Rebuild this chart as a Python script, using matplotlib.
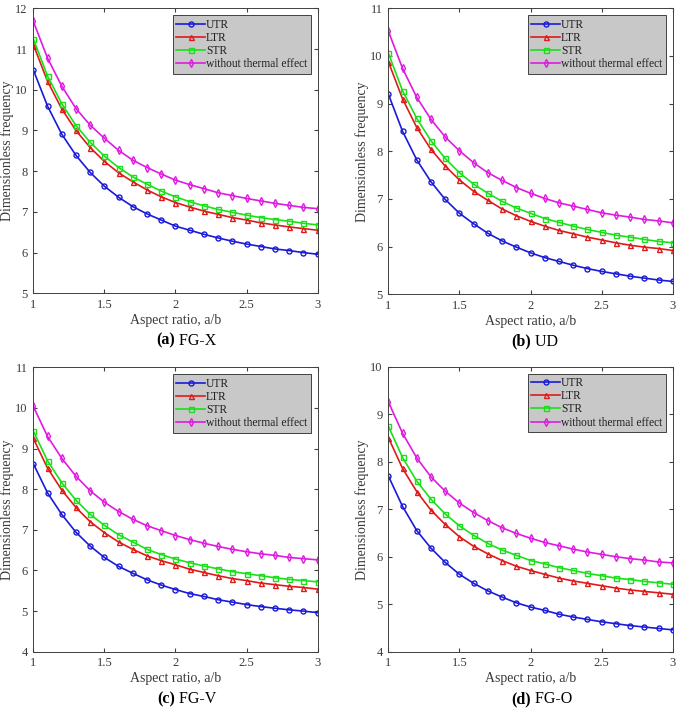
import numpy as np
import matplotlib.pyplot as plt

# Dimensionless frequency vs aspect ratio for four plate types

plt.rcParams['font.family'] = ['Liberation Serif', 'DejaVu Serif']

aspect = [1.0, 1.1, 1.2, 1.3, 1.4, 1.5, 1.6, 1.7, 1.8, 1.9, 2.0,
          2.1, 2.2, 2.3, 2.4, 2.5, 2.6, 2.7, 2.8, 2.9, 3.0]

series_names = ["UTR", "LTR", "STR", "without thermal effect"]

## (a) FG-X ##
fgx_utr = [10.49, 9.60, 8.91, 8.39, 7.97, 7.63, 7.36, 7.13, 6.95, 6.80, 6.65,
           6.55, 6.45, 6.36, 6.28, 6.21, 6.15, 6.09, 6.05, 6.00, 5.96]
fgx_ltr = [11.11, 10.21, 9.53, 9.00, 8.58, 8.24, 7.96, 7.74, 7.54, 7.37, 7.23,
           7.12, 7.02, 6.94, 6.86, 6.80, 6.73, 6.68, 6.63, 6.59, 6.55]
fgx_str = [11.25, 10.34, 9.66, 9.12, 8.71, 8.37, 8.09, 7.86, 7.68, 7.51, 7.37,
           7.25, 7.15, 7.06, 6.99, 6.92, 6.86, 6.81, 6.77, 6.72, 6.68]
fgx_wo = [11.68, 10.78, 10.09, 9.54, 9.13, 8.81, 8.51, 8.27, 8.09, 7.93, 7.78,
          7.67, 7.57, 7.47, 7.40, 7.33, 7.27, 7.21, 7.16, 7.11, 7.08]

## (b) UD ##
ud_utr = [9.20, 8.42, 7.82, 7.36, 6.99, 6.70, 6.48, 6.28, 6.12, 5.99, 5.87,
          5.77, 5.69, 5.61, 5.54, 5.48, 5.43, 5.38, 5.34, 5.30, 5.27]
ud_ltr = [9.88, 9.10, 8.50, 8.04, 7.69, 7.40, 7.16, 6.97, 6.79, 6.65, 6.53,
          6.43, 6.34, 6.27, 6.20, 6.14, 6.08, 6.03, 5.99, 5.96, 5.92]
ud_str = [10.06, 9.27, 8.69, 8.22, 7.85, 7.55, 7.31, 7.12, 6.95, 6.81, 6.70,
          6.59, 6.51, 6.43, 6.36, 6.30, 6.24, 6.20, 6.15, 6.11, 6.08]
ud_wo = [10.52, 9.74, 9.13, 8.67, 8.30, 8.01, 7.76, 7.55, 7.39, 7.24, 7.12,
         7.01, 6.92, 6.85, 6.78, 6.71, 6.66, 6.62, 6.57, 6.54, 6.50]

## (c) FG-V ##
fgv_utr = [8.63, 7.91, 7.38, 6.94, 6.60, 6.32, 6.10, 5.93, 5.77, 5.64, 5.53,
           5.43, 5.36, 5.28, 5.22, 5.16, 5.11, 5.07, 5.03, 5.00, 4.96]
fgv_ltr = [9.25, 8.52, 7.98, 7.55, 7.20, 6.93, 6.70, 6.52, 6.36, 6.24, 6.14,
           6.03, 5.95, 5.87, 5.80, 5.75, 5.69, 5.65, 5.61, 5.58, 5.54]
fgv_str = [9.43, 8.70, 8.16, 7.73, 7.38, 7.11, 6.88, 6.70, 6.52, 6.39, 6.28,
           6.19, 6.11, 6.04, 5.97, 5.92, 5.87, 5.82, 5.78, 5.75, 5.72]
fgv_wo = [10.04, 9.30, 8.76, 8.32, 7.96, 7.68, 7.45, 7.26, 7.10, 6.98, 6.86,
          6.76, 6.67, 6.59, 6.52, 6.46, 6.41, 6.37, 6.32, 6.29, 6.26]

## (d) FG-O ##
fgo_utr = [7.70, 7.06, 6.55, 6.18, 5.88, 5.63, 5.44, 5.28, 5.15, 5.03, 4.94,
           4.87, 4.79, 4.73, 4.68, 4.63, 4.59, 4.55, 4.52, 4.49, 4.46]
fgo_ltr = [8.51, 7.86, 7.37, 6.98, 6.68, 6.42, 6.22, 6.06, 5.92, 5.80, 5.71,
           5.63, 5.55, 5.49, 5.44, 5.39, 5.34, 5.30, 5.27, 5.24, 5.21]
fgo_str = [8.75, 8.09, 7.59, 7.21, 6.90, 6.65, 6.45, 6.28, 6.14, 6.03, 5.92,
           5.85, 5.77, 5.71, 5.65, 5.60, 5.55, 5.52, 5.48, 5.45, 5.42]
fgo_wo = [9.26, 8.60, 8.08, 7.68, 7.38, 7.13, 6.93, 6.76, 6.61, 6.49, 6.39,
          6.30, 6.23, 6.16, 6.10, 6.05, 6.00, 5.96, 5.93, 5.89, 5.87]

panels = [
    ("(a)", "FG-X", [fgx_utr, fgx_ltr, fgx_str, fgx_wo], (5, 12)),
    ("(b)", "UD", [ud_utr, ud_ltr, ud_str, ud_wo], (5, 11)),
    ("(c)", "FG-V", [fgv_utr, fgv_ltr, fgv_str, fgv_wo], (4, 11)),
    ("(d)", "FG-O", [fgo_utr, fgo_ltr, fgo_str, fgo_wo], (4, 10)),
]

colors = ["#1a1ad8", "#e01a1a", "#1ae01a", "#e01ae0"]
markers = ["o", "^", "s", "d"]

# axes rectangles [left, bottom, width, height] in figure fraction
rects = [
    [0.0486, 0.5857, 0.4152, 0.4025],
    [0.5669, 0.5843, 0.4152, 0.4040],
    [0.0486, 0.0795, 0.4152, 0.4017],
    [0.5669, 0.0795, 0.4152, 0.4025],
]

fig = plt.figure(figsize=(6.85, 7.08), dpi=100)
txt = "#3a3a3a"

for (tag, name, data, ylim), rect in zip(panels, rects):
    ax = fig.add_axes(rect)
    for vals, c, m, lab in zip(data, colors, markers, series_names):
        ax.plot(aspect, vals, color=c, marker=m, markersize=3.6,
                markerfacecolor="none", markeredgewidth=1.0,
                linewidth=1.2, label=lab)
    ax.set_xlim(1, 3)
    ax.set_ylim(*ylim)
    ax.set_xticks([1, 1.5, 2, 2.5, 3])
    ax.set_xticklabels(["1", "1.5", "2", "2.5", "3"])
    ax.set_yticks(range(ylim[0], ylim[1] + 1))
    ax.tick_params(direction="in", top=True, right=True, labelsize=9,
                   colors="#404040", labelcolor=txt, length=3, pad=4)
    for sp in ax.spines.values():
        sp.set_color("#404040")
        sp.set_linewidth(0.7)
    ax.set_xlabel("Aspect ratio, a/b", fontsize=10, color=txt, labelpad=2)
    ax.set_ylabel("Dimensionless frequency", fontsize=10, color=txt, labelpad=1)
    leg = ax.legend(loc="upper right", fontsize=8.3, frameon=True, fancybox=False,
                    borderpad=0.3, labelspacing=0.1, handlelength=2.5,
                    handletextpad=0.1, borderaxespad=0.6)
    leg.get_frame().set_facecolor("#c8c8c8")
    leg.get_frame().set_edgecolor("#404040")
    leg.get_frame().set_linewidth(0.7)
    leg.get_frame().set_alpha(1)
    for t in leg.get_texts():
        t.set_color("#202020")
    # caption under panel
    cx = rect[0] + rect[2] / 2
    cy = rect[1] - 0.067
    ax.annotate(tag, xy=(cx, cy), xycoords="figure fraction", ha="right",
                va="center", fontsize=11.5, fontweight="bold", color="black")
    ax.annotate(" " + name, xy=(cx, cy), xycoords="figure fraction", ha="left",
                va="center", fontsize=11.5, color="black")

fig.savefig("out.png", dpi=100)
